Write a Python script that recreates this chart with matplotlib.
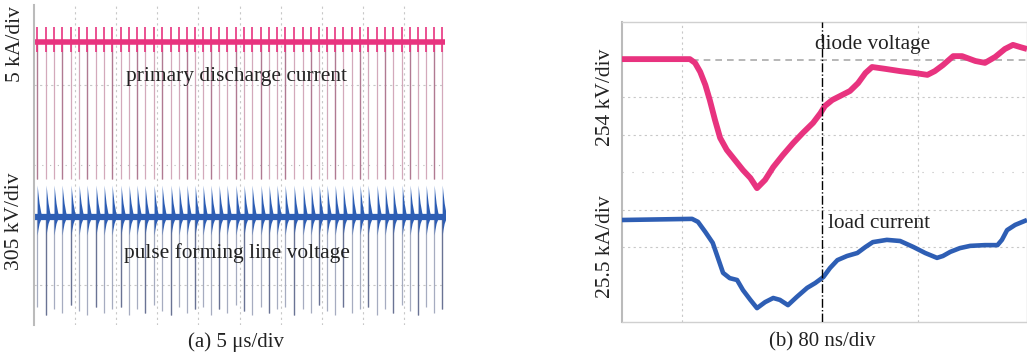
import numpy as np
import matplotlib.pyplot as plt

plt.rcParams['font.family'] = ['Liberation Serif', 'DejaVu Serif']

# ---------- panel (a): pulse trains, 5 us/div, 10 div ----------
# pulse times (us)
pulse_t = [0.37, 1.46, 2.43, 3.41, 4.50, 5.48, 6.45, 7.54, 8.52, 9.49,
           10.58, 11.56, 12.53, 13.50, 14.60, 15.57, 16.67, 17.64, 18.61, 19.59,
           20.56, 21.53, 22.51, 23.48, 24.57, 25.55, 26.52, 27.62, 28.59, 29.56,
           30.54, 31.63, 32.73, 33.70, 34.68, 35.65, 36.63, 37.60, 38.69, 39.66,
           40.64, 41.73, 42.71, 43.68, 44.78, 45.75, 46.72, 47.70, 48.67, 49.65]

# levels in divisions (screen is -4..4)
cur_base = 3.08        # primary discharge current baseline
cur_spike_up = 3.45
cur_spike_dn = 2.83
cur_tail = -0.35       # end of the long thin downward lines
volt_base = -1.30      # PFL voltage baseline
volt_tail = [-3.55, -3.75, -3.6, -3.7, -3.5, -3.65, -3.75, -3.55, -3.7, -3.6]

# decaying pulse envelope of the PFL voltage (offset us, up div, down div)
env_dt = [0.0, 0.02, 0.10, 0.25, 0.45, 0.62]
env_up = [0.0, 0.80, 0.62, 0.35, 0.12, 0.0]
env_dn = [0.0, 0.45, 0.32, 0.16, 0.05, 0.0]

# ---------- panel (b): single pulse, 80 ns/div ----------
diode_t = [0, 92, 99, 106, 113, 119, 126, 133, 142, 153, 164, 174, 183, 194,
           205, 218, 232, 245, 259, 269, 275, 285, 296, 309, 320, 330, 339,
           357, 377, 397, 414, 424, 435, 449, 461, 479, 492, 506, 519, 530,
           540, 549]
diode_v = [7.01, 7.01, 6.91, 6.67, 6.32, 5.92, 5.39, 4.91, 4.59, 4.32, 4.05,
           3.84, 3.57, 3.79, 4.13, 4.45, 4.77, 5.04, 5.31, 5.57, 5.76, 5.92,
           6.03, 6.16, 6.37, 6.64, 6.80, 6.75, 6.69, 6.64, 6.59, 6.69, 6.85,
           7.09, 7.09, 6.96, 6.91, 7.07, 7.28, 7.39, 7.33, 7.28]
load_t = [0, 95, 103, 113, 123, 130, 137, 146, 156, 164, 174, 183, 194, 205,
          214, 225, 237, 251, 262, 273, 282, 292, 305, 319, 330, 340, 359,
          377, 395, 411, 427, 435, 445, 458, 472, 492, 509, 515, 522, 533, 549]
load_i = [2.72, 2.75, 2.67, 2.40, 2.11, 1.71, 1.31, 1.17, 1.12, 0.85, 0.59,
          0.37, 0.53, 0.64, 0.59, 0.45, 0.67, 0.91, 1.04, 1.20, 1.44, 1.65,
          1.76, 1.84, 2.00, 2.13, 2.19, 2.16, 2.00, 1.84, 1.71, 1.76, 1.87,
          1.97, 2.03, 2.05, 2.05, 2.19, 2.45, 2.59, 2.72]
cursor_t = 271

pink = '#E8337F'
blue = '#2E5EB4'
grid_c = '#C8C8C8'
txt_c = '#222222'

W, H = 1027, 356
fig = plt.figure(figsize=(W / 100, H / 100), dpi=100)


def px_axes(x0, y0, x1, y1):
    return fig.add_axes([x0 / W, 1 - y1 / H, (x1 - x0) / W, (y1 - y0) / H])


def px_text(x, y, s, size, rot=0):
    fig.text(x / W, 1 - y / H, s, ha='center', va='center', rotation=rot,
             fontsize=size, color=txt_c)


# ===== (a) =====
ax = px_axes(34, 5, 445, 325)
ax.set_xlim(0, 50)
ax.set_ylim(-4, 4)
for gx in range(5, 50, 5):
    ax.axvline(gx, color=grid_c, lw=0.8, ls=(0, (2, 3)), zorder=0)
for gy in [2, -3]:
    ax.axhline(gy, color=grid_c, lw=0.8, ls=(0, (2, 3)), zorder=0)
ax.axhline(0, color='#BBBBBB', lw=0.8, ls=(0, (1, 6)), zorder=0)

t = np.array(pulse_t)
# long thin tails
ax.vlines(t, cur_tail, cur_base, color='#D3A9BB', lw=0.9, zorder=1)
ax.vlines(t[::3], cur_tail, cur_base, color='#B07A92', lw=0.9, zorder=1)
tails = [volt_tail[i % len(volt_tail)] for i in range(len(t))]
ax.vlines(t, tails, volt_base, color='#A6ACC0', lw=0.9, zorder=1)
ax.vlines(t[1::3], tails[1::3], volt_base, color='#6A7394', lw=0.9, zorder=1)

# baselines
ax.axhline(cur_base, color=pink, lw=4.0, zorder=2)
ax.axhline(volt_base, color=blue, lw=4.5, zorder=2)

# spikes
ax.vlines(t, cur_spike_dn, cur_spike_up, color=pink, lw=1.2, zorder=3)
dt = np.array(env_dt)
for tp in pulse_t:
    ax.fill_between(tp + dt, volt_base - np.array(env_dn),
                    volt_base + np.array(env_up), color=blue, lw=0, zorder=3)

ax.set_xticks([])
ax.set_yticks([])
for side in ['top', 'right', 'bottom']:
    ax.spines[side].set_visible(False)
ax.spines['left'].set_color('#BBBBBB')
ax.spines['left'].set_linewidth(1.5)

# ===== (b) =====
bx = px_axes(622, 22, 1027, 322)
bx.set_xlim(0, 549)
bx.set_ylim(0, 8)
bx.axhline(7, color='#AAAAAA', lw=1.2, ls=(0, (4, 3)), zorder=0)
for gy in [6, 5, 3, 2]:
    bx.axhline(gy, color=grid_c, lw=0.8, ls=(0, (2, 3)), zorder=0)
for gx in [81, 401]:
    bx.axvline(gx, color=grid_c, lw=0.8, ls=(0, (2, 3)), zorder=0)
bx.axhline(4, color='#BBBBBB', lw=0.8, ls=(0, (1, 8)), zorder=0)
bx.axvline(cursor_t, color='black', lw=1.0, ls='-.', zorder=4)

bx.plot(diode_t, diode_v, color=pink, lw=4.2, solid_joinstyle='round',
        solid_capstyle='butt', zorder=3)
bx.plot(load_t, load_i, color=blue, lw=3.3, solid_joinstyle='round',
        solid_capstyle='butt', zorder=3)

bx.set_xticks([])
bx.set_yticks([])
for side in ['top', 'right', 'bottom']:
    bx.spines[side].set_color('#D0D0D0')
    bx.spines[side].set_linewidth(1)
bx.spines['left'].set_color('#BBBBBB')
bx.spines['left'].set_linewidth(1.5)

# ===== texts =====
px_text(15, 44, '5 kA/div', 15.5, 90)
px_text(15, 221, '305 kV/div', 15.5, 90)
px_text(236, 76, 'primary discharge current', 15.4)
px_text(237, 253, 'pulse forming line voltage', 15.4)
px_text(236, 342, '(a) 5 μs/div', 15)
px_text(606, 97, '254 kV/div', 15.5, 90)
px_text(606, 247, '25.5 kA/div', 15.5, 90)
px_text(873, 45, 'diode voltage', 15.3)
px_text(879, 223, 'load current', 15.3)
px_text(822, 342, '(b) 80 ns/div', 15)

fig.savefig('out.png', dpi=100)
